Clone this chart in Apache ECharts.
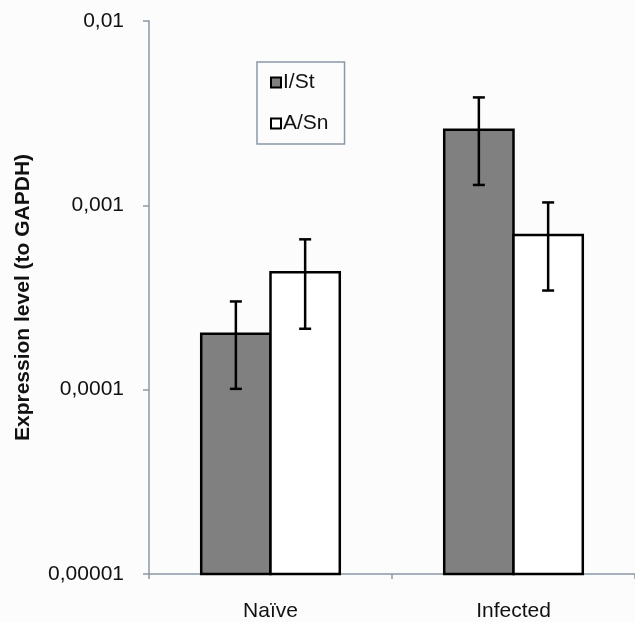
<!DOCTYPE html>
<html>
<head>
<meta charset="utf-8">
<script src="https://cdn.jsdelivr.net/npm/echarts@6/dist/echarts.min.js"></script>
<style>
html,body{margin:0;padding:0;background:#fcfcfd;}
#chart{width:635px;height:622px;}
</style>
</head>
<body>
<div id="chart"></div>
<script>
var categories = ['Naïve', 'Infected'];
var seriesNames = ['I/St', 'A/Sn'];
var valuesISt = [0.000201, 0.00257];
var valuesASn = [0.000434, 0.000691];
var errorsISt = [0.000100, 0.00128];
var errorsASn = [0.000220, 0.000346];
var yTickLabels = ['0,00001', '0,0001', '0,001', '0,01'];
var yMin = 0.00001, yMax = 0.01;

var FONT = '"Liberation Sans", Arial, sans-serif';
var barFrac = 70 / 245.5;

function makeBars(values, idx, fill) {
  return {
    name: seriesNames[idx],
    type: 'custom',
    itemStyle: { color: fill, borderColor: '#000', borderWidth: 2 },
    data: values.map(function (v, i) { return [i, v]; }),
    z: 2,
    renderItem: function (params, api) {
      var band = api.size([1, 0])[0];
      var bw = band * barFrac;
      var top = api.coord([api.value(0), api.value(1)]);
      var base = api.coord([api.value(0), yMin]);
      var x = top[0] + (idx === 0 ? -bw : 0);
      return {
        type: 'rect',
        shape: { x: x, y: top[1], width: bw, height: base[1] - top[1] },
        style: { fill: fill, stroke: '#000', lineWidth: 2.5 }
      };
    }
  };
}

function makeErr(values, errs, idx) {
  return {
    name: seriesNames[idx] + ' err',
    type: 'custom',
    data: values.map(function (v, i) { return [i, v - errs[i], v + errs[i]]; }),
    z: 5,
    silent: true,
    renderItem: function (params, api) {
      var band = api.size([1, 0])[0];
      var bw = band * barFrac;
      var lo = api.coord([api.value(0), api.value(1)]);
      var hi = api.coord([api.value(0), api.value(2)]);
      var cx = lo[0] + (idx === 0 ? -bw / 2 : bw / 2);
      var cap = 6;
      var st = { stroke: '#000', lineWidth: 2.5 };
      return {
        type: 'group',
        children: [
          { type: 'line', shape: { x1: cx, y1: lo[1], x2: cx, y2: hi[1] }, style: st },
          { type: 'line', shape: { x1: cx - cap, y1: lo[1], x2: cx + cap, y2: lo[1] }, style: st },
          { type: 'line', shape: { x1: cx - cap, y1: hi[1], x2: cx + cap, y2: hi[1] }, style: st }
        ]
      };
    }
  };
}

var chart = echarts.init(document.getElementById('chart'), null, { renderer: 'canvas' });
chart.setOption({
  backgroundColor: '#fcfcfd',
  animation: false,
  textStyle: { fontFamily: FONT },
  grid: { left: 149, top: 21, width: 491, height: 555, containLabel: false },
  legend: {
    orient: 'vertical',
    left: 257, top: 62,
    width: 86, height: 80,
    padding: [10, 16, 10, 13],
    itemGap: 20,
    itemWidth: 10, itemHeight: 10,
    icon: 'rect',
    borderColor: '#8a98a6', borderWidth: 1.5,
    backgroundColor: '#fcfcfd',
    textStyle: { fontFamily: FONT, fontSize: 21, color: '#111', lineHeight: 20, padding: [0, 0, 0, -3] },
    data: [
      { name: 'I/St', itemStyle: { color: '#808080', borderColor: '#000', borderWidth: 2 } },
      { name: 'A/Sn', itemStyle: { color: '#ffffff', borderColor: '#000', borderWidth: 2 } }
    ]
  },
  xAxis: {
    type: 'category',
    data: categories,
    axisLine: { lineStyle: { color: '#8a98a6', width: 1.5 } },
    axisTick: { show: true, length: 5, lineStyle: { color: '#8a98a6', width: 1.5 } },
    axisLabel: { fontFamily: FONT, fontSize: 21, color: '#111', margin: 27 },
    splitLine: { show: false }
  },
  yAxis: {
    type: 'log',
    logBase: 10,
    min: yMin, max: yMax,
    name: 'Expression level (to GAPDH)',
    nameLocation: 'middle',
    nameRotate: 90,
    nameGap: 115,
    nameTextStyle: { fontFamily: FONT, fontSize: 21, fontWeight: 'bold', color: '#111' },
    axisLine: { show: true, lineStyle: { color: '#8a98a6', width: 1.5 } },
    axisTick: { show: true, inside: false, length: 6, lineStyle: { color: '#8a98a6', width: 1.5 } },
    axisLabel: {
      fontFamily: FONT, fontSize: 21, color: '#111', margin: 25,
      formatter: function (v) {
        var k = Math.round(Math.log10(v)) + 5;
        return yTickLabels[k] || '';
      }
    },
    splitLine: { show: false },
    minorTick: { show: false }
  },
  series: [
    makeBars(valuesISt, 0, '#808080'),
    makeBars(valuesASn, 1, '#ffffff'),
    makeErr(valuesISt, errorsISt, 0),
    makeErr(valuesASn, errorsASn, 1)
  ]
});
</script>
</body>
</html>
